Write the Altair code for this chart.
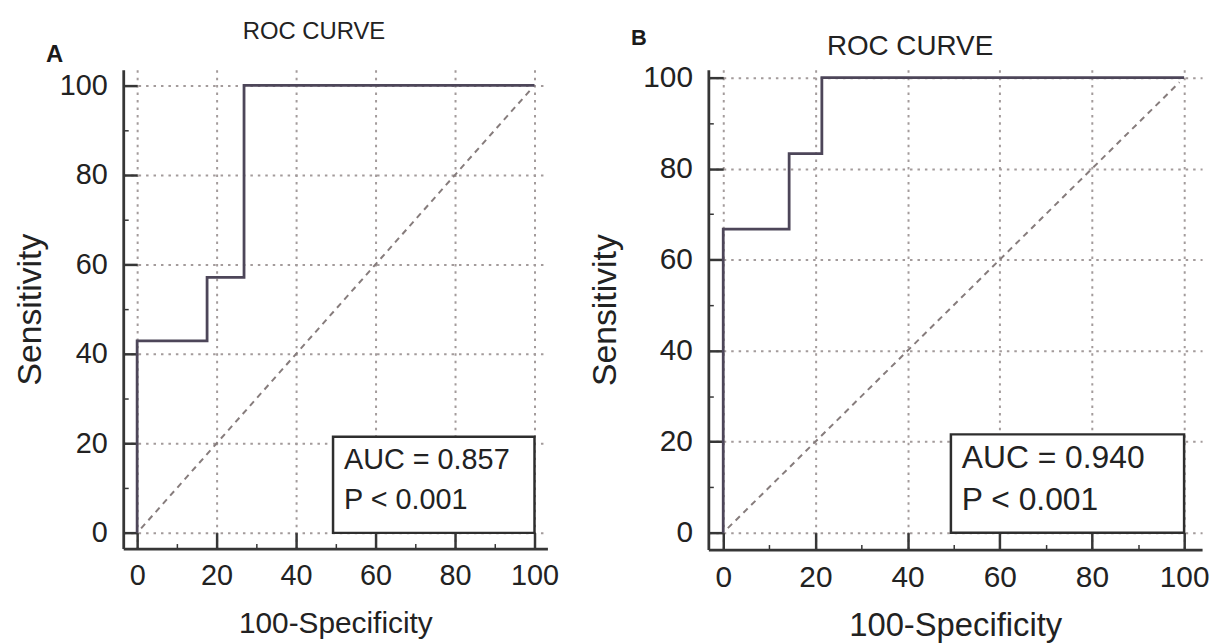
import altair as alt
import pandas as pd

# ---------------- data ----------------
a_fpr = [0, 0, 17.6, 17.6, 26.9, 26.9, 100]
a_tpr = [0, 42.9, 42.9, 57.1, 57.1, 100, 100]
b_fpr = [0, 0, 14.3, 14.3, 21.4, 21.4, 100]
b_tpr = [0, 66.7, 66.7, 83.3, 83.3, 100, 100]
diag_pts = [1, 99]
a_stats = ["AUC = 0.857", "P < 0.001"]
b_stats = ["AUC = 0.940", "P < 0.001"]
tick_values = list(range(0, 101, 5))
chart_title = "ROC CURVE"
x_title = "100-Specificity"
y_title = "Sensitivity"

FONT = "Liberation Sans, Arial, Helvetica, sans-serif"
TXT = "#222222"
AX = "#363636"
GRID = "#a39b9b"
LINE = "#4d4659"
DIAG = "#867c7c"
MAJOR = "datum.value % 20 === 0"


def make_axis(title, tmaj, fs, tfs, lpad, tpad):
    return alt.Axis(
        values=tick_values,
        title=title,
        labelExpr=f"{MAJOR} ? datum.label : ''",
        labelFont=FONT, labelFontSize=fs, labelColor=TXT, labelPadding=lpad,
        labelFlush=False, labelOverlap=False,
        titleFont=FONT, titleFontSize=tfs, titleColor=TXT,
        titleFontWeight="normal", titlePadding=tpad,
        domainColor=AX, domainWidth=2.8,
        tickColor=AX,
        tickSize={"condition": {"test": MAJOR, "value": -tmaj}, "value": -5},
        tickWidth={"condition": {"test": MAJOR, "value": 2.5}, "value": 1.5},
        grid=True, gridColor=GRID, gridDash=[2.5, 5], gridWidth=2,
        gridOpacity={"condition": {"test": MAJOR, "value": 1}, "value": 0},
    )


def make_panel(fpr, tpr, stats, letter, g):
    roc = pd.DataFrame({"fpr": fpr, "tpr": tpr, "step": list(range(len(fpr)))})
    dg = pd.DataFrame({"fpr": diag_pts, "tpr": diag_pts})
    box = pd.DataFrame({"x": [g["box"][0]], "x2": [g["box"][1]],
                        "y": [g["box"][2]], "y2": [g["box"][3]]})
    xs = alt.Scale(domain=g["xdom"], nice=False, zero=False)
    ys = alt.Scale(domain=g["ydom"], nice=False, zero=False)
    xax = make_axis(x_title, g["xtick"], g["lfs"], g["xtfs"], g["xlpad"], g["xtpad"])
    yax = make_axis(y_title, g["ytick"], g["lfs"], g["ytfs"], g["ylpad"], g["ytpad"])

    line = alt.Chart(roc).mark_line(color=LINE, strokeWidth=2.8, interpolate="linear").encode(
        x=alt.X("fpr:Q", scale=xs, axis=xax),
        y=alt.Y("tpr:Q", scale=ys, axis=yax),
        order="step:Q",
    )
    diag = alt.Chart(dg).mark_line(color=DIAG, strokeWidth=2, strokeDash=[6, 5]).encode(
        x=alt.X("fpr:Q", scale=xs),
        y=alt.Y("tpr:Q", scale=ys),
    )
    rect = alt.Chart(box).mark_rect(fill="white", stroke="#2e2e2e", strokeWidth=2.5).encode(
        x=alt.X("x:Q", scale=xs), x2="x2:Q",
        y=alt.Y("y:Q", scale=ys), y2="y2:Q",
    )
    txt = alt.Chart(box).mark_text(
        align="left", baseline="top", font=FONT, fontSize=g["sfs"], color=TXT,
        lineHeight=g["lh"], dx=g["sdx"], dy=g["sdy"],
    ).encode(
        x=alt.X("x:Q", scale=xs),
        y=alt.Y("y2:Q", scale=ys),
        text=alt.value(stats),
    )
    lab = alt.Chart(box).mark_text(
        align="center", baseline="middle", font=FONT, fontSize=g["letfs"],
        fontWeight="bold", color="#1a1a1a",
    ).encode(
        x=alt.value(g["letx"]), y=alt.value(g["lety"]), text=alt.value(letter)
    )
    ttl = alt.Chart(box).mark_text(
        align="center", baseline="alphabetic", font=FONT, fontSize=g["tfs"],
        color=TXT,
    ).encode(
        x=alt.value(g["tx"]), y=alt.value(g["ty"]), text=alt.value(chart_title)
    )
    return alt.layer(line, diag, rect, txt, lab, ttl).properties(width=g["w"], height=g["h"])


ga = dict(w=427, h=482, xdom=[-3.5, 103.25], ydom=[-3.5, 103.5],
          xtick=16, ytick=14, lfs=29, xtfs=30, ytfs=34, xlpad=29, ylpad=30,
          xtpad=8, ytpad=12, box=[49.3, 100, 0, 21.5], sfs=29, lh=40, sdx=11, sdy=10,
          letfs=24, letx=-69, lety=-15, tfs=24, tx=192, ty=-31)
gb = dict(w=497, h=483, xdom=[-3.23, 103.9], ydom=[-3.71, 101.75],
          xtick=17, ytick=15, lfs=30, xtfs=33, ytfs=34, xlpad=30, ylpad=31,
          xtpad=6, ytpad=20, box=[49.4, 100, 0, 21.6], sfs=32, lh=42, sdx=11, sdy=9,
          letfs=22, letx=-70, lety=-32, tfs=28, tx=203, ty=-15)

pa = make_panel(a_fpr, a_tpr, a_stats, "A", ga)
pb = make_panel(b_fpr, b_tpr, b_stats, "B", gb)

chart = alt.hconcat(pa, pb, spacing=162, bounds="flush").resolve_scale(
    x="independent", y="independent"
).properties(
    padding={"left": 5, "top": 10, "right": 5, "bottom": 2},
    background="white",
).configure_view(stroke=None)

chart.save("out.html", embed_options={"renderer": "svg", "actions": False})
